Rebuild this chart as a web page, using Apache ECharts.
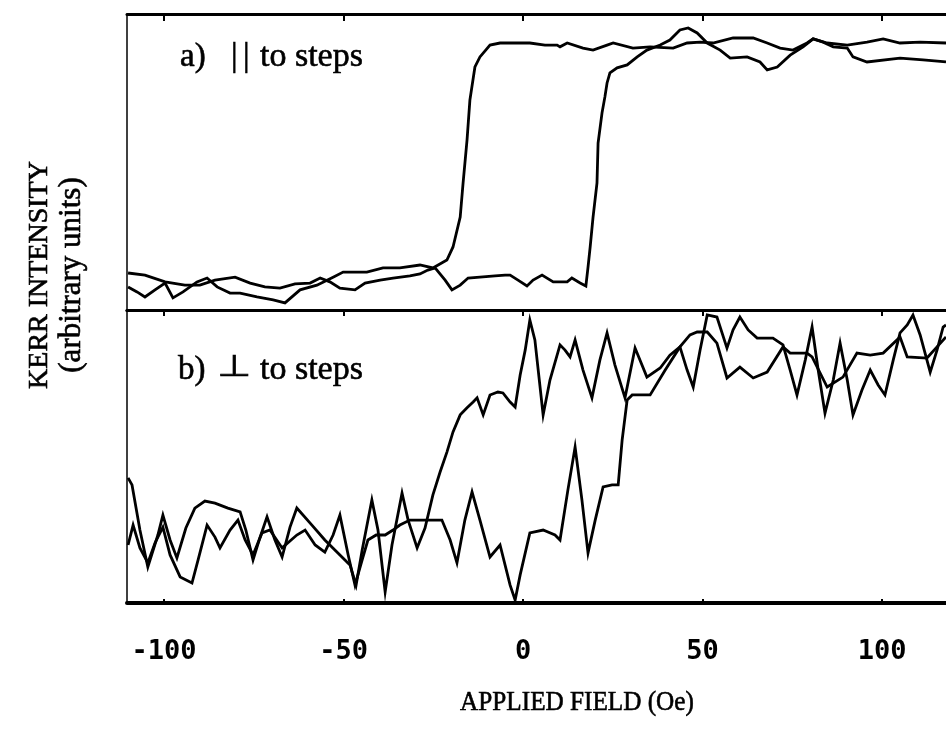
<!DOCTYPE html>
<html>
<head>
<meta charset="utf-8">
<script src="https://cdn.jsdelivr.net/npm/echarts@6/dist/echarts.min.js"></script>
<style>
  html, body { margin: 0; padding: 0; background: #fff; }
  #chart { width: 946px; height: 733px; }
</style>
</head>
<body>
<div id="chart"></div>
<script>
// Applied field (Oe) tick positions
const fieldTicks = [-100, -50, 0, 50, 100];

// a) field parallel to steps — decreasing-field branch
const fieldA_dec = [-110.0,-107.5,-105.3,-102.5,-99.7,-97.5,-94.7,-90.8,-88.0,-85.2,-81.6,-78.8,-74.1,-69.6,-66.3,-62.1,-57.4,-52.9,-50.1,-43.5,-39.0,-34.3,-28.7,-25.1,-21.2,-19.5,-17.5,-16.7,-15.6,-14.8,-13.4,-12.0,-9.2,-6.4,-2.8,1.9,6.1,9.5,10.3,12.3,16.7,19.5,23.4,25.1,30.6,35.4,41.8,45.7,49.3,52.9,58.5,64.1,68.0,71.6,75.2,79.1,80.8,84.7,90.3,95.8,100.3,105.0,110.6,117.8];
const kerrA_dec = [7.8,6.1,4.4,6.8,9.1,4.1,6.1,9.5,10.8,7.8,5.7,5.7,4.4,3.4,2.4,6.8,8.4,11.1,12.8,12.8,14.2,14.2,15.2,14.2,16.9,21.3,31.4,42.9,57.4,70.9,82.1,85.5,89.5,90.2,90.2,90.2,89.5,89.5,88.9,90.2,88.5,87.8,89.5,90.2,88.5,88.9,88.5,90.2,90.5,90.2,91.9,91.9,90.2,88.5,87.8,90.2,91.6,90.2,89.5,90.5,91.6,90.2,90.5,90.2];

// a) field parallel to steps — increasing-field branch
const fieldA_inc = [-110.0,-105.3,-99.7,-94.2,-90.0,-85.8,-80.2,-76.0,-71.9,-67.7,-63.5,-59.3,-56.5,-53.8,-51.0,-46.8,-44.0,-39.8,-36.2,-31.5,-28.7,-26.5,-24.5,-21.7,-19.8,-17.5,-15.3,-12.0,-7.8,-5.0,-3.6,-1.4,1.1,2.8,5.3,8.4,12.3,13.6,15.9,17.5,18.1,18.7,19.5,20.6,20.9,22.0,22.8,23.4,24.2,26.2,29.0,31.8,34.5,38.2,40.9,43.7,46.0,48.5,51.3,54.9,57.7,62.4,66.0,68.0,70.8,74.4,78.0,80.8,83.6,86.4,90.3,91.9,95.8,105.0,111.4,117.8];
const kerrA_inc = [12.5,11.8,9.5,8.4,8.4,10.1,11.1,9.1,7.8,7.4,8.8,9.1,10.8,9.5,7.4,6.8,9.1,10.1,10.8,11.5,12.2,13.5,14.2,10.1,6.8,8.4,10.8,11.1,11.5,11.8,11.8,10.1,8.1,10.1,11.8,9.5,9.5,10.8,9.1,8.1,14.5,21.3,31.4,42.9,56.4,66.6,72.0,76.7,80.1,81.8,82.8,85.5,87.8,89.5,91.2,94.6,95.3,93.6,90.2,87.8,85.1,85.5,83.8,81.1,82.1,86.1,88.9,91.6,90.5,88.9,88.5,85.5,83.8,85.1,84.5,83.8];

// b) field perpendicular to steps — decreasing-field branch
const fieldB_dec = [-110.0,-108.9,-106.7,-104.5,-101.7,-100.3,-98.3,-96.4,-93.9,-91.4,-88.6,-85.8,-82.2,-78.8,-77.2,-75.2,-73.3,-71.3,-69.1,-67.1,-64.9,-63.0,-58.8,-55.2,-51.0,-48.2,-46.5,-44.8,-42.1,-40.4,-38.4,-36.5,-33.7,-32.0,-29.5,-27.3,-25.1,-23.1,-21.2,-19.5,-17.5,-15.6,-13.9,-12.8,-11.1,-9.2,-7.0,-5.6,-3.6,-2.2,-0.8,0.6,1.9,3.3,5.6,7.5,10.3,11.7,13.1,14.5,16.7,19.2,21.4,23.4,25.6,28.4,31.2,34.5,38.2,40.9,43.7,45.7,47.4,49.3,51.3,54.0,56.8,58.5,60.4,62.7,65.2,69.6,72.4,74.4,76.3,78.6,80.5,82.2,84.1,86.4,88.3,90.3,91.9,94.4,96.7,98.9,100.8,103.1,105.0,107.0,108.6,110.6,113.4,115.3,117.0,117.8];
const kerrB_dec = [42.7,40.3,24.9,12.3,23.2,30.0,21.5,15.4,25.6,32.4,34.8,34.1,32.4,31.1,24.9,14.7,22.2,29.4,21.5,15.7,25.9,32.4,26.6,21.5,16.4,13.0,6.1,18.1,35.2,24.9,3.8,19.8,37.5,28.3,18.8,25.6,36.9,44.7,51.5,58.4,64.2,66.6,68.6,70.0,64.2,71.0,72.0,71.7,68.6,66.9,77.8,86.3,96.6,89.8,64.2,76.1,88.1,86.3,84.0,89.8,79.5,70.0,82.9,92.2,81.2,70.0,87.0,77.1,80.2,84.6,87.4,79.5,73.7,86.3,98.3,97.6,87.0,93.2,97.6,93.2,90.4,90.4,88.1,79.5,71.0,82.9,94.2,79.5,64.8,76.1,88.7,76.1,64.2,72.7,79.5,74.4,71.0,82.9,92.2,94.9,98.3,91.5,78.8,86.3,94.2,94.9];

// b) field perpendicular to steps — increasing-field branch
const fieldB_inc = [-110.0,-108.6,-106.7,-104.5,-102.5,-100.3,-98.3,-95.5,-92.2,-90.5,-88.0,-85.8,-84.4,-81.6,-79.4,-77.4,-75.2,-72.7,-70.5,-67.1,-63.0,-60.7,-57.9,-55.2,-52.9,-51.0,-48.7,-46.8,-44.8,-43.2,-40.9,-38.4,-36.2,-34.3,-31.5,-27.3,-22.6,-20.3,-18.4,-16.2,-14.2,-12.0,-9.2,-6.4,-3.6,-2.2,-0.8,1.9,5.6,8.9,10.3,12.5,14.5,16.4,18.1,20.1,22.3,24.8,26.5,27.6,29.0,30.4,35.4,39.6,43.7,46.5,48.5,51.3,54.0,56.8,60.4,64.1,68.0,72.4,74.4,79.1,80.5,84.7,89.1,93.0,96.7,100.3,105.0,107.0,112.5,115.3,117.8];
const kerrB_inc = [19.8,26.6,18.8,13.7,20.5,25.9,16.4,8.9,6.8,14.7,26.6,22.5,18.8,24.9,28.3,21.5,16.4,23.9,24.9,18.8,23.2,24.9,19.8,17.4,23.2,30.0,16.4,6.1,14.7,21.5,23.2,23.2,24.9,26.6,28.3,28.3,28.3,21.5,13.7,28.3,37.9,28.3,15.7,19.8,6.1,1.0,9.6,23.9,24.9,23.2,21.5,38.6,53.2,35.2,17.1,28.3,39.6,40.3,40.3,55.6,69.3,71.0,71.0,79.5,87.4,91.5,92.5,92.5,88.7,76.8,80.5,76.8,78.8,87.4,85.3,85.3,84.0,73.7,77.1,85.3,84.6,85.3,90.8,84.0,83.6,87.4,90.8];

const FIELD_MIN = -110.3, FIELD_MAX = 117.8;
const pairs = (xs, ys) => xs.map((x, i) => [x, ys[i]]);

const serifFont = '"Liberation Serif", "Times New Roman", serif';
const black = '#000';

function xAxisDef(gridIndex, position, opts) {
  return Object.assign({
    type: 'value', gridIndex: gridIndex, position: position,
    min: FIELD_MIN, max: FIELD_MAX,
    axisLine: { show: true, onZero: false, lineStyle: { color: black, width: 3 } },
    axisTick: { show: true, inside: true, length: 6, customValues: fieldTicks, lineStyle: { color: black, width: 2 } },
    axisLabel: { show: false },
    splitLine: { show: false }
  }, opts || {});
}
function yAxisDef(gridIndex) {
  return {
    type: 'value', gridIndex: gridIndex, min: 0, max: 100,
    axisLine: { show: true, onZero: false, lineStyle: { color: black, width: 1.5 } },
    axisTick: { show: false }, axisLabel: { show: false }, splitLine: { show: false }
  };
}
function trace(xIdx, yIdx, xs, ys) {
  return {
    type: 'line', xAxisIndex: xIdx, yAxisIndex: yIdx, data: pairs(xs, ys),
    showSymbol: false, symbol: 'none', smooth: false, animation: false,
    lineStyle: { color: black, width: 2.8, join: 'miter' }
  };
}
// Serif caption text, slightly thickened with a hairline stroke
function caption(x, y, text, size, extra) {
  return Object.assign({
    type: 'text', x: x, y: y,
    style: { text: text, font: size + 'px ' + serifFont, fill: black, stroke: black, lineWidth: 0.6,
             align: 'left', verticalAlign: 'middle' }
  }, extra || {});
}

const chart = echarts.init(document.getElementById('chart'), null, { renderer: 'canvas' });
chart.setOption({
  backgroundColor: '#fff',
  animation: false,
  grid: [
    { left: 127, right: 0, top: 14, bottom: 423 },
    { left: 127, right: 0, top: 310, bottom: 130 }
  ],
  xAxis: [
    xAxisDef(0, 'bottom', { axisTick: { show: false } }),
    xAxisDef(0, 'top', { axisTick: { show: true, inside: true, length: 7, customValues: fieldTicks, lineStyle: { color: black, width: 2 } } }),
    xAxisDef(1, 'bottom', {
      axisLine: { show: true, onZero: false, lineStyle: { color: black, width: 4 } },
      axisTick: { show: true, inside: true, length: 4, customValues: fieldTicks, lineStyle: { color: black, width: 2 } },
      axisLabel: {
        show: true, customValues: fieldTicks, margin: 35,
        fontFamily: '"DejaVu Sans Mono", monospace', fontWeight: 'bold', fontSize: 27, color: black
      }
    }),
    xAxisDef(1, 'top')
  ],
  yAxis: [yAxisDef(0), yAxisDef(1)],
  series: [
    trace(0, 0, fieldA_dec, kerrA_dec),
    trace(0, 0, fieldA_inc, kerrA_inc),
    trace(2, 1, fieldB_dec, kerrB_dec),
    trace(2, 1, fieldB_inc, kerrB_inc)
  ],
  graphic: [
    caption(40, 275, 'KERR INTENSITY', 28, { rotation: Math.PI / 2, style: { text: 'KERR INTENSITY', font: '28px ' + serifFont, fill: black, stroke: black, lineWidth: 0.6, align: 'center', verticalAlign: 'middle' } }),
    caption(72, 275, '(arbitrary units)', 31, { rotation: Math.PI / 2, style: { text: '(arbitrary units)', font: '31px ' + serifFont, fill: black, stroke: black, lineWidth: 0.6, align: 'center', verticalAlign: 'middle' } }),
    caption(577, 703, 'APPLIED FIELD (Oe)', 28, { scaleX: 0.9, style: { text: 'APPLIED FIELD (Oe)', font: '28px ' + serifFont, fill: black, stroke: black, lineWidth: 0.6, align: 'center', verticalAlign: 'middle' } }),
    caption(180, 57, 'a)', 33),
    caption(231, 57, '|', 33),
    caption(243, 57, '|', 33),
    caption(260, 57, 'to steps', 34),
    caption(178, 370, 'b)', 33),
    { type: 'text', x: 217, y: 368, scaleX: 1.3,
      style: { text: '⊥', font: '30px "DejaVu Sans", sans-serif', fill: black, stroke: black, lineWidth: 0.6, align: 'left', verticalAlign: 'middle' } },
    caption(260, 370, 'to steps', 34)
  ]
});
</script>
</body>
</html>
